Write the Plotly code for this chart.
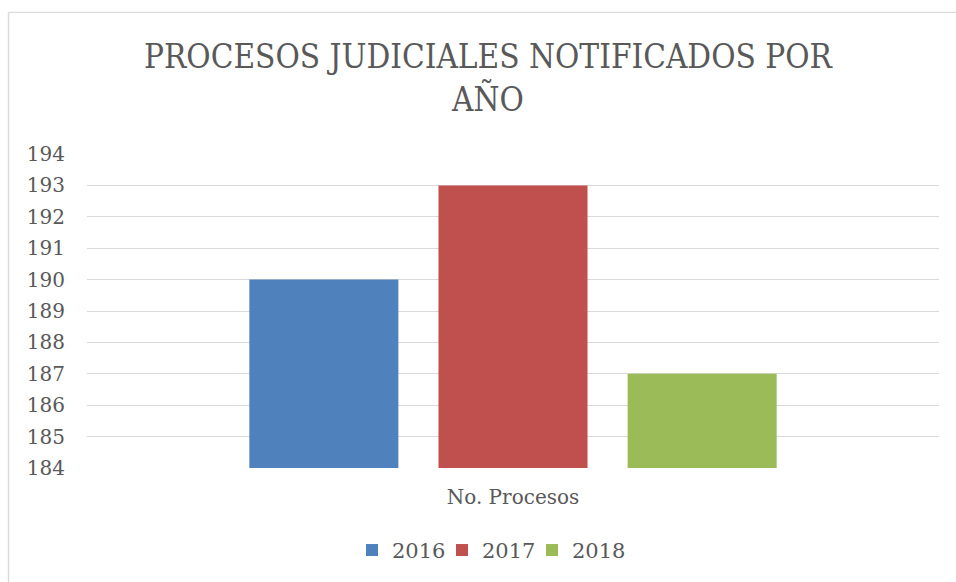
import plotly.graph_objects as go

categories = ["No. Procesos"]
years = ["2016", "2017", "2018"]
values_2016 = [190]
values_2017 = [193]
values_2018 = [187]
colors = ["#4F81BD", "#C0504D", "#9BBB59"]
y_ticks = [184, 185, 186, 187, 188, 189, 190, 191, 192, 193, 194]

OFF = 0
W, H = 956, 582
L = 87 - OFF
R = W - (939 - OFF)
T = 154 - OFF
B = H - (467.7 - OFF)

TXT = "#595959"
FONT = "DejaVu Serif, Liberation Serif, serif"

pw = W - L - R
ph = H - T - B

def px_x(sx):
    return (sx - OFF - L) / pw

def px_y(sy):
    return (H - B - (sy - OFF)) / ph

legend_ids = ["legend", "legend2", "legend3"]
legend_left = [366, 456, 546]  # screen x of the legend squares

fig = go.Figure()
for name, vals, col, lid in zip(years, [values_2016, values_2017, values_2018], colors, legend_ids):
    fig.add_trace(go.Bar(x=categories, y=vals, name=name, legend=lid,
                         marker=dict(color=col, line=dict(width=0))))

legend_common = dict(
    orientation="h", xanchor="left", yanchor="middle", y=px_y(550),
    font=dict(family=FONT, size=21, color=TXT), bgcolor="rgba(0,0,0,0)",
)

layout_legends = {}
for lid, sx in zip(legend_ids, legend_left):
    layout_legends[lid] = dict(legend_common, x=px_x(sx - 14))

fig.update_layout(
    width=W, height=H,
    margin=dict(l=L, r=R, t=T, b=B, pad=0, autoexpand=False),
    paper_bgcolor="white", plot_bgcolor="white",
    barmode="group", bargap=0.334, bargroupgap=0.212,
    title=dict(
        text="PROCESOS JUDICIALES NOTIFICADOS POR<br>AÑO",
        font=dict(family="DejaVu Serif Condensed, Liberation Serif, serif", size=33, color=TXT),
        x=488 / W, xanchor="center", xref="container",
        y=1 - 68 / H, yanchor="top", yref="container",
    ),
    xaxis=dict(
        showgrid=False, showline=False, zeroline=False, automargin=False,
        ticks="outside", ticklen=11, tickcolor="rgba(0,0,0,0)",
        tickfont=dict(family=FONT, size=20, color=TXT),
    ),
    yaxis=dict(
        range=[184, 194], tickvals=y_ticks, ticktext=[str(v) for v in y_ticks],
        showgrid=True, gridcolor="#D9D9D9", gridwidth=1.4, automargin=False,
        zeroline=False, showline=False,
        ticks="outside", ticklen=17, tickcolor="rgba(0,0,0,0)",
        tickfont=dict(family=FONT, size=20, color=TXT),
    ),
    showlegend=True,
    shapes=[
        dict(type="line", xref="paper", yref="paper",
             x0=px_x(8.5), x1=px_x(8.5), y0=px_y(12.5), y1=px_y(700),
             line=dict(color="#D9D9D9", width=1.4), layer="below"),
        dict(type="line", xref="paper", yref="paper",
             x0=px_x(8.5), x1=px_x(1000), y0=px_y(12.5), y1=px_y(12.5),
             line=dict(color="#D9D9D9", width=1.4), layer="below"),
    ],
    **layout_legends,
)

fig.write_html(
    "out.html",
    config={"displayModeBar": False},
    post_script="document.body.style.margin='0';document.body.style.overflow='hidden';",
)
